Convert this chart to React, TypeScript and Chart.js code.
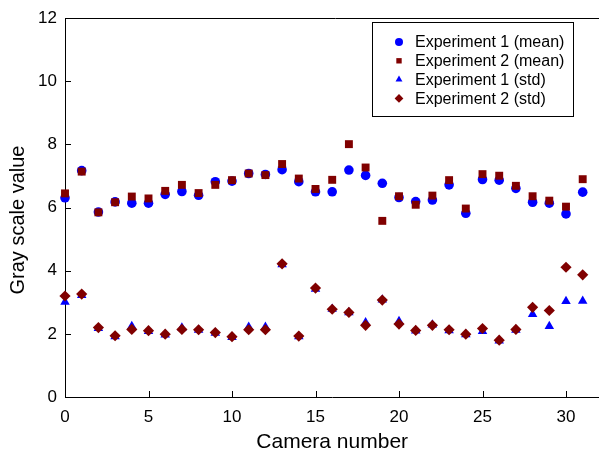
import React, { useEffect, useRef } from "react";
import { Chart, registerables } from "chart.js";

Chart.register(...registerables);

const cameras = [0, 1, 2, 3, 4, 5, 6, 7, 8, 9, 10, 11, 12, 13, 14, 15, 16, 17, 18, 19, 20, 21, 22, 23, 24, 25, 26, 27, 28, 29, 30, 31];

const exp1Mean = [6.31, 7.17, 5.86, 6.18, 6.14, 6.14, 6.42, 6.51, 6.39, 6.82, 6.84, 7.08, 7.05, 7.2, 6.82, 6.5, 6.5, 7.19, 7.02, 6.77, 6.32, 6.19, 6.24, 6.72, 5.82, 6.89, 6.87, 6.61, 6.17, 6.14, 5.8, 6.49];
const exp2Mean = [6.45, 7.14, 5.85, 6.17, 6.35, 6.29, 6.53, 6.72, 6.46, 6.72, 6.87, 7.08, 7.03, 7.38, 6.92, 6.59, 6.88, 8.01, 7.27, 5.58, 6.36, 6.09, 6.38, 6.87, 5.97, 7.06, 7.01, 6.69, 6.36, 6.22, 6.03, 6.9];
const exp1Std = [3.01, 3.22, 2.18, 1.92, 2.24, 2.08, 1.97, 2.19, 2.12, 2.03, 1.89, 2.22, 2.22, 4.2, 1.92, 3.42, 2.79, 2.68, 2.36, 3.08, 2.4, 2.1, 2.29, 2.11, 1.98, 2.08, 1.78, 2.12, 2.62, 2.24, 3.03, 3.04];
const exp2Std = [3.2, 3.26, 2.2, 1.94, 2.14, 2.1, 1.99, 2.14, 2.13, 2.04, 1.91, 2.13, 2.13, 4.22, 1.93, 3.45, 2.78, 2.68, 2.27, 3.07, 2.31, 2.11, 2.27, 2.13, 1.99, 2.17, 1.8, 2.14, 2.84, 2.74, 4.11, 3.87];

const seriesLabels = ["Experiment 1 (mean)", "Experiment 2 (mean)", "Experiment 1 (std)", "Experiment 2 (std)"];
const xTicks = [0, 5, 10, 15, 20, 25, 30];
const yTicks = [0, 2, 4, 6, 8, 10, 12];
const xTitle = "Camera number";
const yTitle = "Gray scale value";

const BLUE = "#0000ff";
const RED = "#800000";
const FONT = "'Liberation Sans', Arial, Helvetica, sans-serif";

function drawMarker(ctx: CanvasRenderingContext2D, style: string, x: number, y: number, r: number, color: string) {
  ctx.save();
  ctx.fillStyle = color;
  ctx.beginPath();
  if (style === "circle") {
    ctx.arc(x, y, r, 0, Math.PI * 2);
  } else if (style === "rect") {
    const s = r * Math.SQRT1_2;
    ctx.rect(x - s, y - s, 2 * s, 2 * s);
  } else if (style === "triangle") {
    for (let i = 0; i < 3; i++) {
      const a = -Math.PI / 2 + (i * 2 * Math.PI) / 3;
      const px = x + Math.cos(a) * r;
      const py = y + Math.sin(a) * r;
      if (i === 0) ctx.moveTo(px, py);
      else ctx.lineTo(px, py);
    }
    ctx.closePath();
  } else {
    ctx.moveTo(x, y - r);
    ctx.lineTo(x + r, y);
    ctx.lineTo(x, y + r);
    ctx.lineTo(x - r, y);
    ctx.closePath();
  }
  ctx.fill();
  ctx.restore();
}

const framePlugin = {
  id: "frameAndLegend",
  afterDatasetsDraw(chart: any) {
    const { ctx, chartArea, scales } = chart;
    const { left, right, top, bottom } = chartArea;
    ctx.save();
    // frame top
    ctx.strokeStyle = "#000";
    ctx.lineWidth = 1;
    ctx.beginPath();
    ctx.moveTo(left, Math.round(top) + 0.5);
    ctx.lineTo(right + 10, Math.round(top) + 0.5);
    ctx.stroke();
    // inside ticks
    const tl = 6;
    ctx.beginPath();
    scales.x.ticks.forEach((t: any) => {
      const px = Math.round(scales.x.getPixelForValue(t.value)) + 0.5;
      ctx.moveTo(px, bottom);
      ctx.lineTo(px, bottom - tl);
    });
    scales.y.ticks.forEach((t: any) => {
      const py = Math.round(scales.y.getPixelForValue(t.value)) + 0.5;
      ctx.moveTo(left, py);
      ctx.lineTo(left + tl, py);
    });
    ctx.stroke();

    // y title
    ctx.save();
    ctx.translate(18, 220);
    ctx.rotate(-Math.PI / 2);
    ctx.font = `20px ${FONT}`;
    ctx.fillStyle = "#000";
    ctx.textAlign = "center";
    ctx.textBaseline = "middle";
    ctx.fillText(yTitle, 0, 0);
    ctx.restore();

    // legend box
    const bx = 372.5, by = 22.5, bw = 201, bh = 94;
    ctx.fillStyle = "#ffffff";
    ctx.fillRect(bx, by, bw, bh);
    ctx.strokeStyle = "#000";
    ctx.strokeRect(bx, by, bw, bh);
    ctx.font = `16px ${FONT}`;
    ctx.textBaseline = "middle";
    ctx.textAlign = "left";
    const sizes = [4, 3.8, 4, 4.4];
    chart.data.datasets.forEach((ds: any, i: number) => {
      const cy = 42 + i * 18.8;
      drawMarker(ctx, ds.pointStyle, 399, cy, sizes[i], ds.backgroundColor);
      ctx.fillStyle = "#000";
      ctx.fillText(ds.label, 415, cy + 1);
    });
    ctx.restore();
  },
};

export default function App() {
  const ref = useRef<HTMLCanvasElement | null>(null);
  useEffect(() => {
    if (!ref.current) return;
    const mk = (vals: number[]) => cameras.map((c, i) => ({ x: c, y: vals[i] }));
    const chart = new Chart(ref.current, {
      type: "scatter",
      data: {
        datasets: [
          { label: seriesLabels[0], data: mk(exp1Mean), pointStyle: "circle", pointRadius: 4.8, backgroundColor: BLUE, borderColor: BLUE, borderWidth: 0, order: 4, clip: false },
          { label: seriesLabels[1], data: mk(exp2Mean), pointStyle: "rect", pointRadius: 5.6, backgroundColor: RED, borderColor: RED, borderWidth: 0, order: 3, clip: false },
          { label: seriesLabels[2], data: mk(exp1Std), pointStyle: "triangle", pointRadius: 5.5, backgroundColor: BLUE, borderColor: BLUE, borderWidth: 0, order: 2, clip: false },
          { label: seriesLabels[3], data: mk(exp2Std), pointStyle: "rectRot", pointRadius: 5.6, backgroundColor: RED, borderColor: RED, borderWidth: 0, order: 1, clip: false },
        ],
      } as any,
      options: {
        animation: false,
        responsive: false,
        devicePixelRatio: 1,
        layout: { padding: { left: 0, right: 2, top: 16, bottom: 0 } },
        plugins: { legend: { display: false }, tooltip: { enabled: false } },
        scales: {
          x: {
            type: "linear",
            min: 0,
            max: 32,
            afterBuildTicks: (s: any) => { s.ticks = xTicks.map((v) => ({ value: v })); },
            afterFit: (s: any) => { s.height = 62; },
            grid: { display: false, drawTicks: false },
            border: { display: true, color: "#000", width: 1 },
            ticks: { color: "#000", font: { family: FONT, size: 17 }, padding: 10, maxRotation: 0 },
            title: { display: true, text: xTitle, color: "#000", font: { family: FONT, size: 21 }, padding: { top: 0, bottom: 4 } },
          },
          y: {
            type: "linear",
            min: 0,
            max: 12,
            afterBuildTicks: (s: any) => { s.ticks = yTicks.map((v) => ({ value: v })); },
            afterFit: (s: any) => { s.width = 65; },
            grid: { display: false, drawTicks: false },
            border: { display: true, color: "#000", width: 1 },
            ticks: { color: "#000", font: { family: FONT, size: 17 }, padding: 8 },
            title: { display: false },
          },
        },
      } as any,
      plugins: [framePlugin],
    });
    return () => chart.destroy();
  }, []);
  return (
    <div style={{ position: "fixed", left: 0, top: 0, width: 599, height: 459, overflow: "hidden", background: "#fff" }}>
      <canvas ref={ref} width={605} height={459} style={{ width: 605, height: 459, display: "block" }} />
    </div>
  );
}
